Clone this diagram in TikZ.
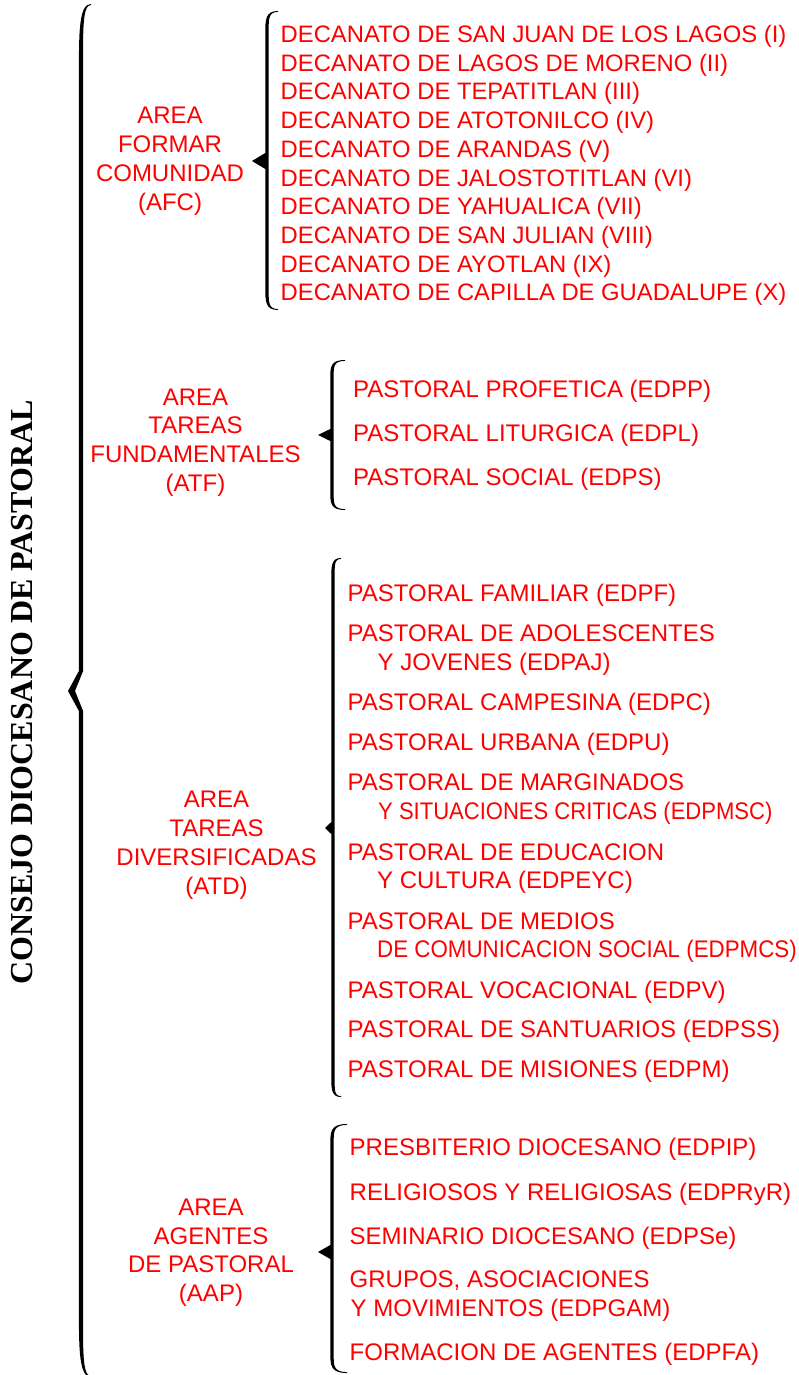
\documentclass[tikz,border=0pt]{standalone}
\usepackage{fontspec}
\usepackage{graphicx}
\setmainfont{Liberation Sans}
\newfontfamily\titlefont{Liberation Serif}
\definecolor{rd}{RGB}{255,0,0}
% brace: #1 spine x, #2 top y, #3 bottom y, #4 tip y, #5 tip x, #6 curl end x, #7 curl length, #8 notch half height, #9 inner tip x
\newcommand{\mybrace}[9]{%
 \fill[black] (#6,#2) .. controls ({#1-\bth},#2) and ({#1-\bth},{#2+0.4*#7}) .. ({#1-\bth},{#2+#7})
   -- ({#1-\bth},{#4-#8}) -- (#5,#4) -- ({#1-\bth},{#4+#8})
   -- ({#1-\bth},{#3-#7}) .. controls ({#1-\bth},{#3-0.4*#7}) and ({#1-\bth},#3) .. (#6,#3)
   -- (#6,{#3-0.9}) .. controls ({#1+0.5*\bth},{#3-1}) and ({#1+\bth},{#3-0.4*#7}) .. ({#1+\bth},{#3-#7})
   -- ({#1+\bth},{#4+#8}) -- (#9,#4) -- ({#1+\bth},{#4-#8})
   -- ({#1+\bth},{#2+#7}) .. controls ({#1+\bth},{#2+0.4*#7}) and ({#1+0.5*\bth},{#2+1}) .. (#6,{#2+0.9}) -- cycle;}
\begin{document}
\begin{tikzpicture}[x=1pt,y=-1pt,
  item/.style={anchor=base west, inner sep=0pt, text=rd, font=\fontsize{24}{28.6}\selectfont},
  dec/.style={anchor=base west, inner sep=0pt, text=rd, font=\fontsize{23.8}{28.6}\selectfont},
  lbl/.style={anchor=base, inner sep=0pt, text=rd, font=\fontsize{24}{28.6}\selectfont}]
\useasboundingbox (0,0) rectangle (799,1375);

% title
\node[rotate=90, anchor=base, inner sep=0pt, font=\titlefont\bfseries\fontsize{32}{32}\selectfont] (title) at (32,692.5) {CONSEJO DIOCESANO DE PASTORAL};

% braces
\def\bth{2.1}
\mybrace{81}{4}{1377}{691}{68}{91}{70}{20}{75}
\def\bth{1.7}
\mybrace{267}{11}{310}{161}{252}{278}{22}{8}{268.7}
\mybrace{332}{360}{510}{435}{318}{345}{18}{6}{333.7}
\mybrace{333}{558}{1097}{828}{325}{341}{20}{6}{334.7}
\mybrace{332}{1124}{1373}{1252}{318}{347}{20}{7}{333.7}

% AFC
\node[lbl] (afc1) at (170,124) {AREA};
\node[lbl] (afc2) at (170,153) {FORMAR};
\node[lbl] (afc3) at (170,182) {COMUNIDAD};
\node[lbl] (afc4) at (170,210.5) {(AFC)};
\foreach \t [count=\i] in {DECANATO DE SAN JUAN DE LOS LAGOS (I),
  DECANATO DE LAGOS DE MORENO (II),
  DECANATO DE TEPATITLAN (III),
  DECANATO DE ATOTONILCO (IV),
  DECANATO DE ARANDAS (V),
  DECANATO DE JALOSTOTITLAN (VI),
  DECANATO DE YAHUALICA (VII),
  DECANATO DE SAN JULIAN (VIII),
  DECANATO DE AYOTLAN (IX),
  DECANATO DE CAPILLA DE GUADALUPE (X)}
  {\node[dec] (d\i) at (280.5,{42.3+28.74*(\i-1)}) {\t};}

% ATF
\node[lbl] (atf1) at (195.5,405) {AREA};
\node[lbl] (atf2) at (195.5,433.5) {TAREAS};
\node[lbl] (atf3) at (195.5,462.3) {FUNDAMENTALES};
\node[lbl] (atf4) at (195.5,491) {(ATF)};
\node[item] (f1) at (353,397.5) {PASTORAL PROFETICA (EDPP)};
\node[item] (f2) at (353,441.7) {PASTORAL LITURGICA (EDPL)};
\node[item] (f3) at (353,485.7) {PASTORAL SOCIAL (EDPS)};

% ATD
\node[lbl] (atd1) at (216.5,807.5) {AREA};
\node[lbl] (atd2) at (216.5,836.5) {TAREAS};
\node[lbl] (atd3) at (216.5,865.5) {DIVERSIFICADAS};
\node[lbl] (atd4) at (216.5,894) {(ATD)};
\node[item] (t1) at (347.5,601.3) {PASTORAL FAMILIAR (EDPF)};
\node[item] (t2) at (347.5,641.3) {PASTORAL DE ADOLESCENTES};
\node[item] (t2b) at (377.5,670) {Y JOVENES (EDPAJ)};
\node[item] (t3) at (347.5,710.3) {PASTORAL CAMPESINA (EDPC)};
\node[item] (t4) at (347.5,750.3) {PASTORAL URBANA (EDPU)};
\node[item] (t5) at (347.5,790) {PASTORAL DE MARGINADOS};
\node[item] (t5b) at (378,819.3) {\scalebox{0.918}[1]{Y SITUACIONES CRITICAS (EDPMSC)}};
\node[item] (t6) at (347.5,860) {PASTORAL DE EDUCACION};
\node[item] (t6b) at (377,888.3) {Y CULTURA (EDPEYC)};
\node[item] (t7) at (347.5,929) {PASTORAL DE MEDIOS};
\node[item] (t7b) at (377,957.3) {\scalebox{0.931}[1]{DE COMUNICACION SOCIAL (EDPMCS)}};
\node[item] (t8) at (347.5,998) {PASTORAL VOCACIONAL (EDPV)};
\node[item] (t9) at (347.5,1037.5) {PASTORAL DE SANTUARIOS (EDPSS)};
\node[item] (t10) at (347.5,1077) {PASTORAL DE MISIONES (EDPM)};

% AAP
\node[lbl] (aap1) at (211,1215.5) {AREA};
\node[lbl] (aap2) at (211,1244) {AGENTES};
\node[lbl] (aap3) at (211,1272.5) {DE PASTORAL};
\node[lbl] (aap4) at (211,1301) {(AAP)};
\node[item] (a1) at (349.5,1155.7) {PRESBITERIO DIOCESANO (EDPIP)};
\node[item] (a2) at (349.5,1200) {RELIGIOSOS Y RELIGIOSAS (EDPRyR)};
\node[item] (a3) at (349.5,1244) {SEMINARIO DIOCESANO (EDPSe)};
\node[item] (a4) at (349.5,1287.7) {GRUPOS, ASOCIACIONES};
\node[item] (a4b) at (350.5,1316.7) {Y MOVIMIENTOS (EDPGAM)};
\node[item] (a5) at (349.5,1360) {FORMACION DE AGENTES (EDPFA)};
\end{tikzpicture}
\end{document}
